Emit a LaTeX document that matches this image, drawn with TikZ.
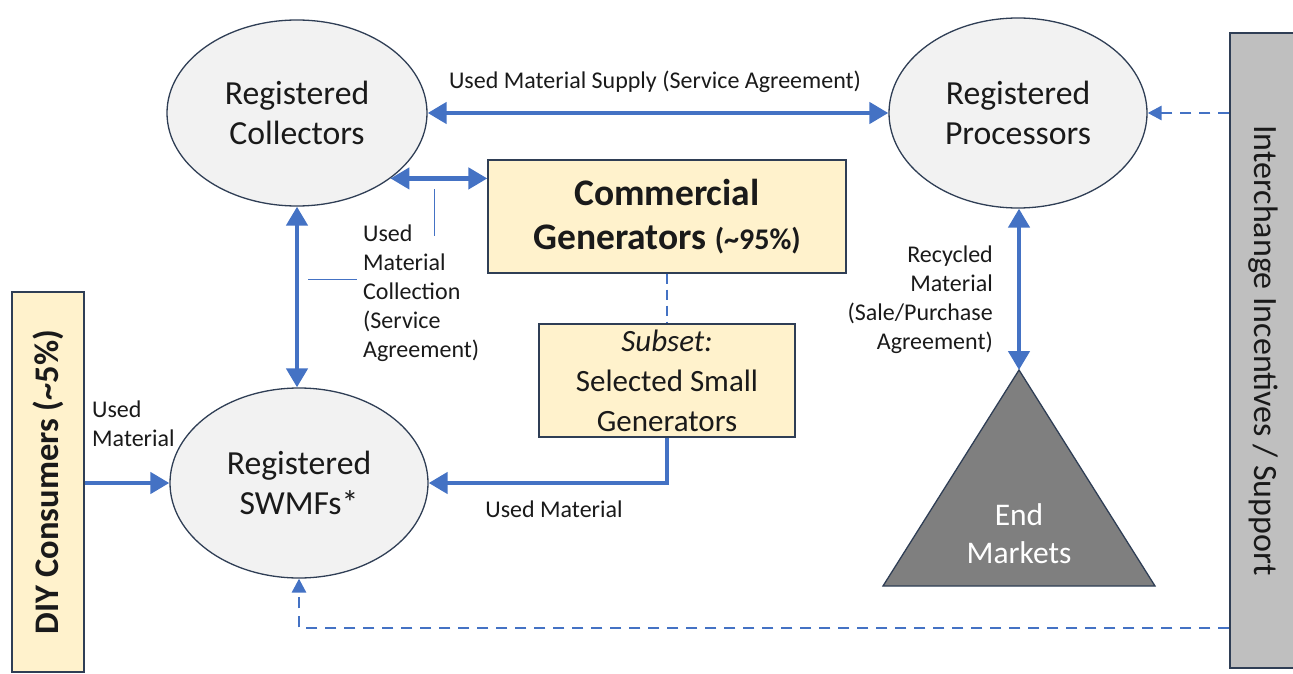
\documentclass[tikz,border=0pt]{standalone}
\usepackage{fontspec}
\setmainfont{Carlito}
\usetikzlibrary{shapes.geometric,arrows.meta}

\definecolor{flow}{HTML}{4472C4}
\definecolor{bubble}{HTML}{F2F2F2}
\definecolor{edgeline}{HTML}{2F3E55}
\definecolor{cream}{HTML}{FFF2CC}
\definecolor{panel}{HTML}{BFBFBF}
\definecolor{market}{HTML}{7F7F7F}
\definecolor{ink}{HTML}{1A1A1A}

\tikzset{
  party/.style={ellipse, draw=edgeline, line width=1.3pt, fill=bubble, inner sep=0pt,
    minimum width=260pt, minimum height=186pt, align=center, text=ink,
    font=\fontsize{33.7}{40}\selectfont},
  genbox/.style={rectangle, draw=edgeline, line width=1.3pt, fill=cream, align=center,
    inner sep=0pt, text=ink},
  flowline/.style={draw=flow, line width=4.5pt},
  both/.style={flowline, {Triangle[length=19pt,width=21pt]}-{Triangle[length=19pt,width=21pt]}},
  oneway/.style={flowline, -{Triangle[length=19pt,width=21pt]}},
  support/.style={draw=flow, line width=2.8pt, dash pattern=on 11pt off 8pt,
    -{Triangle[length=14pt,width=14pt]}},
  subsetlink/.style={draw=flow, line width=2.5pt, dash pattern=on 10pt off 6pt},
  lbl/.style={font=\fontsize{24}{29}\selectfont, text=ink, inner sep=0pt},
  callout/.style={draw=flow, line width=1pt}
}

\begin{document}
\begin{tikzpicture}[x=1pt, y=-1pt]
\useasboundingbox (0,0) rectangle (1293,674);

% participants
\node[party] (col) at (297,113) {Registered\\Collectors};
\node[party, minimum width=258pt, minimum height=190pt] (proc) at (1018,113) {Registered\\Processors};
\node[party, minimum width=258pt, minimum height=190pt] (swmf) at (299,483) {Registered\\SWMFs*};

% generators
\node[genbox, minimum width=358pt, minimum height=113pt,
      font=\bfseries\fontsize{37.5}{44}\selectfont] (com) at (667,216.5)
      {Commercial\\Generators {\fontsize{30}{36}\selectfont(\textasciitilde95\%)}};
\node[genbox, minimum width=256pt, minimum height=113pt,
      font=\fontsize{31}{40}\selectfont] (sub) at (667,380.5)
      {\textit{Subset:}\\Selected Small\\Generators};

% side panels
\node[genbox, rotate=90, minimum width=380pt, minimum height=72pt,
      font=\bfseries\fontsize{34.5}{40}\selectfont] (diy) at (48,482)
      {DIY Consumers (\textasciitilde5\%)};
\node[rectangle, draw=edgeline, line width=1.3pt, fill=panel, rotate=-90,
      minimum width=635pt, minimum height=66pt, inner sep=0pt, text=ink,
      font=\fontsize{34}{40}\selectfont] (inter) at (1263,350.5)
      {Interchange Incentives / Support};

% end markets
\coordinate (apex) at (1019,370);
\draw[draw=edgeline, line width=1.3pt, fill=market]
  (apex) -- (1155,586) -- (883,586) -- cycle;
\node[text=white, align=center, font=\fontsize{31.5}{38}\selectfont] (endm) at (1019,534)
  {End\\Markets};

% flows
\draw[both] (col.east) -- (proc.west);
\node[lbl] (supplylbl) at (655,82) {Used Material Supply (Service Agreement)};

\draw[both] (col.-35.8) -- (col.-35.8 -| com.west);
\draw[both] (col.south) -- (col.south |- swmf.north);
\draw[callout] (434,189) -- (434,236);
\draw[callout] (308,279) -- (357,279);
\node[lbl, align=left, anchor=west] (colllbl) at (363,293.5)
  {Used\\Material\\Collection\\(Service\\Agreement)};

\draw[both] (proc.south -| apex) -- (apex);
\node[lbl, align=right, anchor=east] (recyclbl) at (993,299.5)
  {Recycled\\Material\\(Sale/Purchase\\Agreement)};

\draw[subsetlink] (com.south) -- (sub.north);
\draw[oneway] (sub.south) |- (swmf.east);
\node[lbl] (usedlbl) at (554,509) {Used Material};

\draw[oneway] (diy.south |- swmf.west) -- (swmf.west);
\node[lbl, align=left, anchor=west] (diylbl) at (92,424) {Used\\Material};

% support links
\draw[support] (inter.south |- proc.east) -- (proc.east);
\draw[support] (inter.south |- 0,628) -| (swmf.south);
\end{tikzpicture}
\end{document}
